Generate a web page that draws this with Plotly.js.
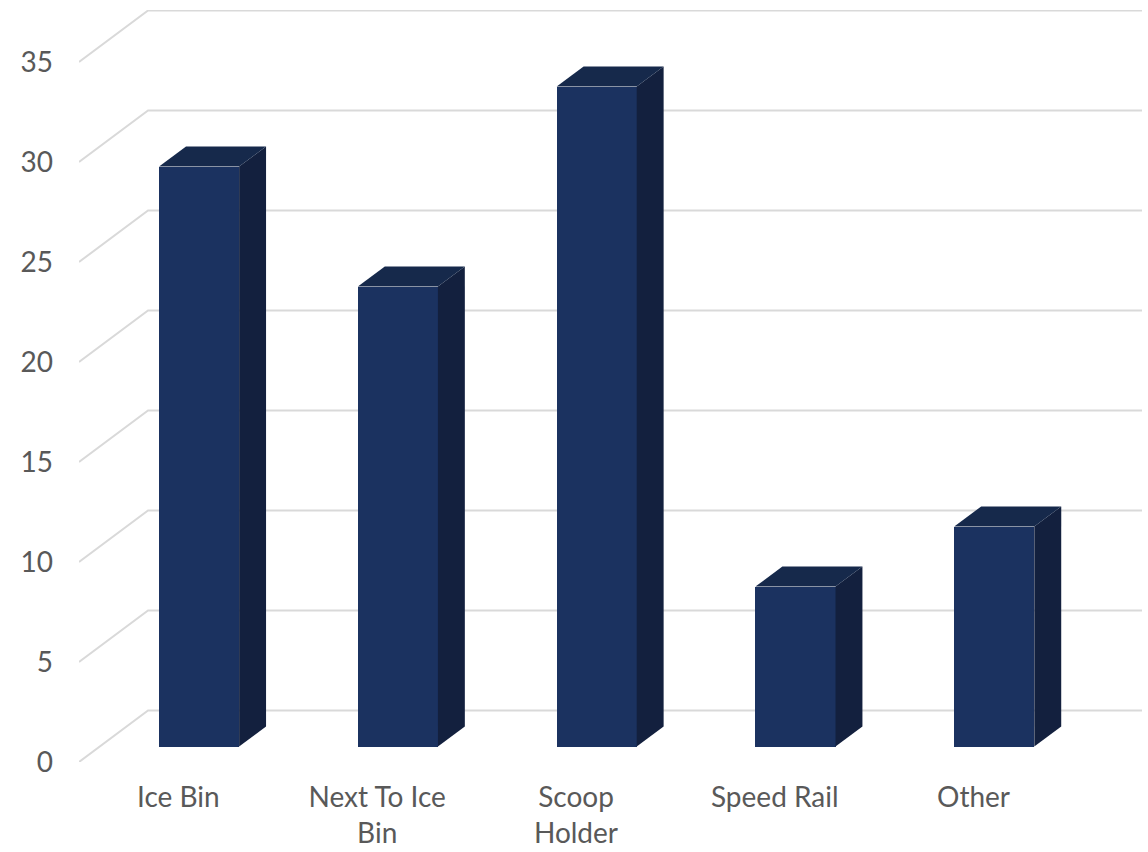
<!DOCTYPE html>
<html>
<head>
<meta charset="utf-8">
<script src="https://cdn.plot.ly/plotly-3.0.1.min.js"></script>
<style>
  html, body { margin: 0; padding: 0; background: #ffffff; }
  #chart { width: 1148px; height: 852px; }
</style>
</head>
<body>
<div id="chart"></div>
<script>
// Ice scoop storage locations
const categories = ["Ice Bin", "Next To Ice Bin", "Scoop Holder", "Speed Rail", "Other"];
const tickLabels = ["Ice Bin", "Next To Ice<br>Bin", "Scoop<br>Holder", "Speed Rail", "Other"];
const counts = [29, 23, 33, 8, 11];
const yTicks = [0, 5, 10, 15, 20, 25, 30, 35];

// Oblique 3D projection: how far one full unit of depth shifts a point
const DEPTH_X = 0.3473;   // in category units
const DEPTH_Y = 2.575;    // in value units
const BAR_FRONT = 0.30;   // depth of the bar's front face
const BAR_BACK = 0.69;    // depth of the bar's back face
const BAR_W = 0.4026;     // bar width in category units

const FRONT = "#1b3260";
const SIDE = "#13203e";
const TOP = "#16294b";
const GRID = "#d9d9d9";

const xMin = -0.5, xMax = categories.length - 0.5;

// Wall grid: diagonal on the side wall, then horizontal along the back wall
const shapes = yTicks.map(v => ({
  type: "path",
  xref: "x", yref: "y",
  layer: "below",
  path: `M ${xMin},${v} L ${xMin + DEPTH_X},${v + DEPTH_Y} L ${xMax + DEPTH_X},${v + DEPTH_Y}`,
  line: { color: GRID, width: 2 }
}));

const idx = categories.map((_, i) => i);

// Front faces of the columns
const front = {
  type: "bar",
  x: idx.map(i => i + BAR_FRONT * DEPTH_X),
  y: counts,
  base: idx.map(() => BAR_FRONT * DEPTH_Y),
  width: BAR_W,
  marker: { color: FRONT, line: { width: 0 } },
  hoverinfo: "skip",
  showlegend: false
};

const traces = [front];

counts.forEach((v, i) => {
  const xl = i - BAR_W / 2, xr = i + BAR_W / 2;
  const fx = BAR_FRONT * DEPTH_X, fy = BAR_FRONT * DEPTH_Y;
  const bx = BAR_BACK * DEPTH_X, by = BAR_BACK * DEPTH_Y;
  // right side face
  traces.push({
    type: "scatter", mode: "lines", fill: "toself",
    x: [xr + fx, xr + bx, xr + bx, xr + fx, xr + fx],
    y: [fy, by, v + by, v + fy, fy],
    fillcolor: SIDE, line: { width: 0, color: SIDE },
    hoverinfo: "skip", showlegend: false
  });
  // top face
  traces.push({
    type: "scatter", mode: "lines", fill: "toself",
    x: [xl + fx, xr + fx, xr + bx, xl + bx, xl + fx],
    y: [v + fy, v + fy, v + by, v + by, v + fy],
    fillcolor: TOP, line: { width: 0, color: TOP },
    hoverinfo: "skip", showlegend: false
  });
});

const layout = {
  width: 1148,
  height: 852,
  margin: { l: 79, r: 6, t: 10, b: 90 },
  paper_bgcolor: "#ffffff",
  plot_bgcolor: "rgba(0,0,0,0)",
  font: { family: "Lato, 'Open Sans', sans-serif", size: 28, color: "#595959" },
  showlegend: false,
  xaxis: {
    range: [xMin, xMax + DEPTH_X],
    tickmode: "array",
    tickvals: idx,
    ticktext: tickLabels,
    tickfont: { size: 28 },
    showgrid: false,
    zeroline: false,
    showline: false,
    ticks: "",
    ticklabelstandoff: 16,
    fixedrange: true
  },
  yaxis: {
    range: [0, 37.6],
    tickmode: "array",
    tickvals: yTicks,
    ticktext: yTicks.map(String),
    showgrid: false,
    zeroline: false,
    showline: false,
    ticks: "",
    ticklabelstandoff: 25,
    fixedrange: true
  },
  shapes: shapes,
  bargap: 0
};

Plotly.newPlot("chart", traces, layout, { displayModeBar: false, staticPlot: true });
</script>
</body>
</html>
